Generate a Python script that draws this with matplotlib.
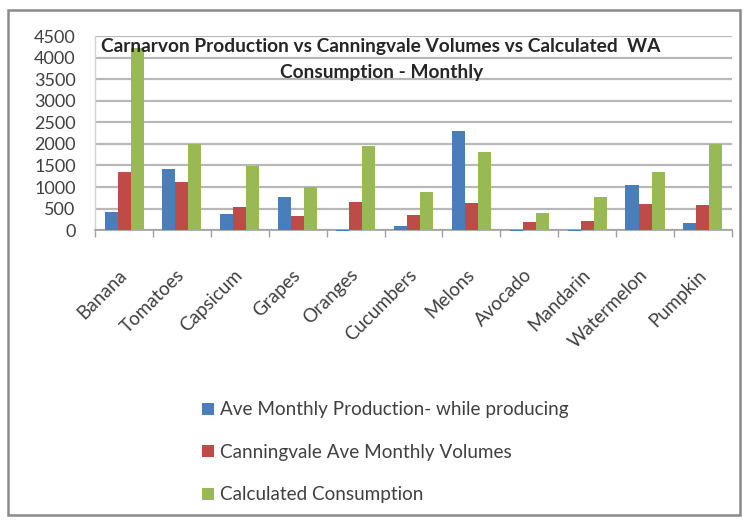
import matplotlib
matplotlib.use("Agg")
import matplotlib.pyplot as plt
import numpy as np
from matplotlib.patches import Rectangle

categories = ["Banana", "Tomatoes", "Capsicum", "Grapes", "Oranges", "Cucumbers",
              "Melons", "Avocado", "Mandarin", "Watermelon", "Pumpkin"]
production = [410, 1410, 375, 775, -15, 100, 2310, -15, -10, 1045, 160]
canningvale = [1355, 1125, 540, 325, 650, 350, 620, 195, 215, 610, 590]
consumption = [4230, 2000, 1490, 1010, 1950, 880, 1810, 405, 775, 1355, 1995]
series_names = ["Ave Monthly Production- while producing",
                "Canningvale Ave Monthly Volumes",
                "Calculated Consumption"]
y_ticks = [0, 500, 1000, 1500, 2000, 2500, 3000, 3500, 4000, 4500]

colors = ["#4a7ebb", "#be4b48", "#98b954"]
text_color = "#404040"
plt.rcParams["font.family"] = ["Lato", "DejaVu Sans"]

fig = plt.figure(figsize=(7.43, 5.23), dpi=100)
ax = fig.add_axes([0.128, 0.560, 0.857, 0.371])

x = np.arange(len(categories))
w = 0.225
for i, (vals, name) in enumerate(zip([production, canningvale, consumption], series_names)):
    ax.bar(x + (i - 1) * w, vals, width=w, color=colors[i], label=name,
           zorder=3, clip_on=False)

ax.set_xlim(-0.5, len(categories) - 0.5)
ax.set_ylim(0, 4500)
ax.set_yticks(y_ticks)
ax.set_yticklabels([str(v) for v in y_ticks], fontsize=13, color=text_color)
ax.tick_params(axis="y", length=0, pad=14)

ax.set_xticks(x - 0.1)
ax.set_xticklabels(categories, rotation=45, ha="right", rotation_mode="anchor",
                   fontsize=13.5, color=text_color)
ax.tick_params(axis="x", which="major", length=0, pad=26)
ax.set_xticks(np.arange(-0.5, len(categories)), minor=True)
ax.tick_params(axis="x", which="minor", length=5, color="#a0a0a0", width=1)

ax.yaxis.grid(True, color="#b8b8b8", linewidth=1.6, zorder=0)
ax.set_axisbelow(True)
for side in ["top", "right"]:
    ax.spines[side].set_visible(False)
ax.spines["bottom"].set_color("#a0a0a0")
ax.spines["bottom"].set_linewidth(1.2)
ax.spines["left"].set_color("#d0d0d0")
ax.spines["left"].set_linewidth(1.0)
ax.spines["bottom"].set_zorder(2.5)

fig.text(0.513, 0.912, "Carnarvon Production vs Canningvale Volumes vs Calculated  WA",
         ha="center", va="center", fontsize=13.8, fontweight="bold", color="#262626")
fig.text(0.513, 0.862, "Consumption - Monthly",
         ha="center", va="center", fontsize=13.8, fontweight="bold", color="#262626")

handles, labels = ax.get_legend_handles_labels()
leg = fig.legend(handles, labels, loc="upper left", bbox_to_anchor=(0.262, 0.247),
                 frameon=False, fontsize=13.6, labelcolor=text_color,
                 handlelength=0.62, handleheight=0.62, handletextpad=0.3,
                 labelspacing=1.35, borderaxespad=0)

fig.patches.append(Rectangle((8 / 743, 1 - 515 / 523), (740 - 8) / 743, (515 - 10) / 523,
                             transform=fig.transFigure, fill=False,
                             edgecolor="#8a8a8a", linewidth=1.8))

fig.savefig("out.png", dpi=100)
